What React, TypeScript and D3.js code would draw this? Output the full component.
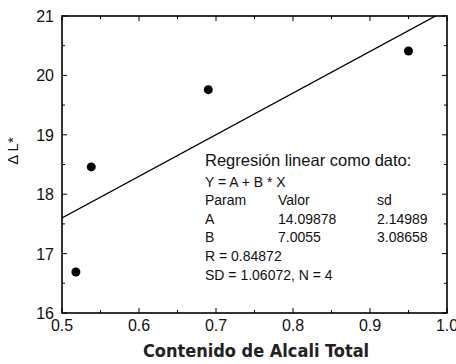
import React, { useEffect, useRef } from 'react';
import * as d3 from 'd3';

const alcali = [0.518, 0.538, 0.69, 0.95];
const deltaL = [16.69, 18.46, 19.76, 20.41];
const xTicks = [0.5, 0.6, 0.7, 0.8, 0.9, 1.0];
const yTicks = [16, 17, 18, 19, 20, 21];
const fitA = 14.09878;
const fitB = 7.0055;
const statsLines = [
  'Y = A + B * X',
  'R = 0.84872',
  'SD = 1.06072, N = 4',
];
const paramRows = [
  ['Param', 'Valor', 'sd'],
  ['A', '14.09878', '2.14989'],
  ['B', '7.0055', '3.08658'],
];

const App: React.FC = () => {
  const svgRef = useRef<SVGSVGElement>(null);

  useEffect(() => {
    if (!svgRef.current) return;
    const svg = d3.select(svgRef.current);
    svg.selectAll('*').remove();

    const left = 62, right = 447, top = 16, bottom = 313;
    const font = '"Liberation Sans", Arial, sans-serif';

    const x = d3.scaleLinear().domain([0.5, 1.0]).range([left, right]);
    const y = d3.scaleLinear().domain([16, 21]).range([bottom, top]);

    svg.append('defs').append('clipPath').attr('id', 'plot-clip')
      .append('rect')
      .attr('x', left).attr('y', top)
      .attr('width', right - left).attr('height', bottom - top);

    // ticks (inward, major + minor) on all four sides
    const xMinor = d3.range(0, 11).map(i => 0.5 + i * 0.05);
    const yMinor = d3.range(0, 11).map(i => 16 + i * 0.5);
    const tickG = svg.append('g').attr('stroke', '#000').attr('stroke-width', 1);
    xMinor.forEach((v, i) => {
      const len = i % 2 === 0 ? 5 : 3;
      tickG.append('line').attr('x1', x(v)).attr('x2', x(v)).attr('y1', bottom).attr('y2', bottom - len);
      tickG.append('line').attr('x1', x(v)).attr('x2', x(v)).attr('y1', top).attr('y2', top + len);
    });
    yMinor.forEach((v, i) => {
      const len = i % 2 === 0 ? 5 : 3;
      tickG.append('line').attr('x1', left).attr('x2', left + len).attr('y1', y(v)).attr('y2', y(v));
      tickG.append('line').attr('x1', right).attr('x2', right - len).attr('y1', y(v)).attr('y2', y(v));
    });

    // frame
    svg.append('rect')
      .attr('x', left).attr('y', top)
      .attr('width', right - left).attr('height', bottom - top)
      .attr('fill', 'none').attr('stroke', '#000').attr('stroke-width', 1.6);

    // tick labels
    svg.append('g').selectAll('text').data(xTicks).enter().append('text')
      .attr('x', d => x(d)).attr('y', bottom + 18)
      .attr('text-anchor', 'middle')
      .style('font-family', font).style('font-size', '16px').attr('fill', '#111')
      .text(d => d.toFixed(1));

    svg.append('g').selectAll('text').data(yTicks).enter().append('text')
      .attr('x', left - 8).attr('y', d => y(d) + 6)
      .attr('text-anchor', 'end')
      .style('font-family', font).style('font-size', '16px').attr('fill', '#111')
      .text(d => d);

    // regression line
    const line = d3.line<number>().x(d => x(d)).y(d => y(fitA + fitB * d));
    svg.append('path')
      .datum([0.5, 1.0])
      .attr('clip-path', 'url(#plot-clip)')
      .attr('d', line)
      .attr('fill', 'none').attr('stroke', '#000').attr('stroke-width', 1.3);

    // points
    svg.append('g').selectAll('circle').data(alcali).enter().append('circle')
      .attr('cx', d => x(d)).attr('cy', (_, i) => y(deltaL[i]))
      .attr('r', 4.5).attr('fill', '#000');

    // stats box
    const tx = 205;
    svg.append('text')
      .attr('x', tx).attr('y', 166)
      .style('font-family', font).style('font-size', '16.5px').attr('fill', '#111')
      .text('Regresión linear como dato:');
    svg.append('text')
      .attr('x', tx).attr('y', 186.5)
      .style('font-family', font).style('font-size', '14px').attr('fill', '#111')
      .text(statsLines[0]);
    const cols = [tx, 278, 377];
    paramRows.forEach((row, r) => {
      row.forEach((cell, c) => {
        svg.append('text')
          .attr('x', cols[c]).attr('y', 205 + r * 18.7)
          .style('font-family', font).style('font-size', '14px').attr('fill', '#111')
          .text(cell);
      });
    });
    svg.append('text')
      .attr('x', tx).attr('y', 261)
      .style('font-family', font).style('font-size', '14px').attr('fill', '#111')
      .text(statsLines[1]);
    svg.append('text')
      .attr('x', tx).attr('y', 280)
      .style('font-family', font).style('font-size', '14px').attr('fill', '#111')
      .text(statsLines[2]);

    // axis titles
    svg.append('text')
      .attr('x', 256).attr('y', 357)
      .attr('text-anchor', 'middle')
      .style('font-family', '"Liberation Sans Narrow", "DejaVu Sans Condensed", sans-serif')
      .style('font-size', '18px').style('font-weight', 'bold').attr('fill', '#222')
      .text('Contenido de Alcali Total');

    svg.append('text')
      .attr('transform', 'translate(18, 151) rotate(-90)')
      .attr('text-anchor', 'middle')
      .style('font-family', font).style('font-size', '15px').attr('fill', '#111')
      .text('Δ L*');
  }, []);

  return (
    <div style={{ position: 'fixed', left: 0, top: 0 }}>
      <svg ref={svgRef} width={456} height={364} style={{ display: 'block', background: '#fff' }} />
    </div>
  );
};

export default App;
